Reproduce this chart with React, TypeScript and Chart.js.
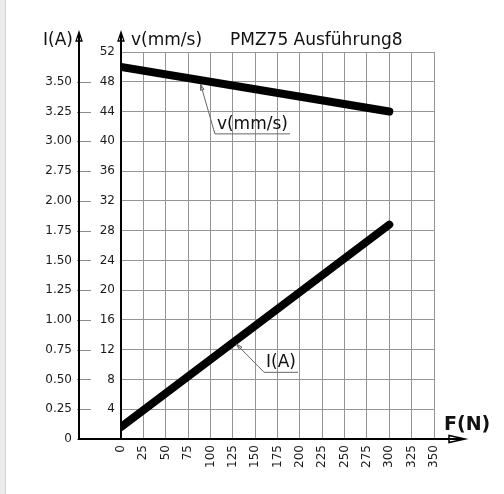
import React, { useEffect, useRef } from "react";
import { Chart, registerables } from "chart.js";

Chart.register(...registerables);

// ---- data ----
const FORCE_N = [0, 300];
const SPEED_MM_S = [50, 44];
const CURRENT_A = [0.1, 1.8];

const X_TICK_LABELS = ["0", "25", "50", "75", "100", "125", "150", "175", "200", "225", "250", "275", "300", "325", "350"];
const V_TICK_LABELS = ["", "4", "8", "12", "16", "20", "24", "28", "32", "36", "40", "44", "48", "52"];
const I_TICK_LABELS = ["0", "0.25", "0.50", "0.75", "1.00", "1.25", "1.50", "1.75", "2.00", "2.75", "3.00", "3.25", "3.50", ""];

const TITLE = "PMZ75 Ausführung8";
const V_AXIS_TITLE = "v(mm/s)";
const I_AXIS_TITLE = "I(A)";
const X_AXIS_TITLE = "F(N)";

const FONT = "'DejaVu Sans', Verdana, sans-serif";

function valueAt(xs: number[], ys: number[], x: number) {
  const t = (x - xs[0]) / (xs[1] - xs[0]);
  return ys[0] + t * (ys[1] - ys[0]);
}

function drawArrowHead(ctx: CanvasRenderingContext2D, fx: number, fy: number, tx: number, ty: number, len: number, half: number) {
  const ang = Math.atan2(ty - fy, tx - fx);
  const bx = tx - len * Math.cos(ang);
  const by = ty - len * Math.sin(ang);
  const px = -Math.sin(ang) * half;
  const py = Math.cos(ang) * half;
  ctx.beginPath();
  ctx.moveTo(tx, ty);
  ctx.lineTo(bx + px, by + py);
  ctx.lineTo(bx - px, by - py);
  ctx.closePath();
  ctx.stroke();
}

const decorPlugin = {
  id: "decor",
  afterDraw(chart: any) {
    const { ctx, chartArea: ca, scales } = chart;
    const xs = scales.x;
    const yv = scales.y;
    const yi = scales.yI;
    const vx = ca.left;
    const ix = yi.right;
    const by = ca.bottom;
    ctx.save();

    // I-axis tick marks
    ctx.strokeStyle = "#8c8c8c";
    ctx.lineWidth = 1;
    yi.ticks.forEach((t: any, i: number) => {
      if (!I_TICK_LABELS[i]) return;
      const y = Math.round(yi.getPixelForValue(t.value)) + 0.5;
      ctx.beginPath();
      ctx.moveTo(ix - 2, y);
      ctx.lineTo(ix + 12, y);
      ctx.stroke();
    });

    // axes
    ctx.strokeStyle = "#000";
    ctx.lineWidth = 2;
    for (const x of [ix, vx]) {
      ctx.beginPath();
      ctx.moveTo(x, by + 1);
      ctx.lineTo(x, ca.top - 18);
      ctx.stroke();
      ctx.lineWidth = 1.3;
      drawArrowHead(ctx, x, by, x, ca.top - 20, 9, 3);
      ctx.lineWidth = 2;
    }
    ctx.beginPath();
    ctx.moveTo(ix, by);
    ctx.lineTo(ca.right + 28, by);
    ctx.stroke();
    ctx.lineWidth = 1.5;
    drawArrowHead(ctx, ix, by, ca.right + 31, by, 16, 3.5);

    // axis titles
    ctx.fillStyle = "#111";
    ctx.textBaseline = "alphabetic";
    ctx.font = `17px ${FONT}`;
    ctx.textAlign = "right";
    ctx.fillText(I_AXIS_TITLE, ix - 6, ca.top - 7);
    ctx.textAlign = "left";
    ctx.fillText(V_AXIS_TITLE, vx + 10, ca.top - 7);
    ctx.fillText(TITLE, 230, ca.top - 7);
    ctx.font = `bold 19px ${FONT}`;
    ctx.fillText(X_AXIS_TITLE, ca.right + 10, by - 9);

    // annotations with leader lines
    const notes = [
      { text: V_AXIS_TITLE, scale: yv, ys: SPEED_MM_S, anchorF: 89, elbowF: 105, elbowY: 41, endF: 189 },
      { text: I_AXIS_TITLE, scale: yi, ys: CURRENT_A, anchorF: 129, elbowF: 160, elbowY: 0.56, endF: 198 },
    ];
    ctx.font = `17px ${FONT}`;
    for (const n of notes) {
      const ax = xs.getPixelForValue(n.anchorF);
      const ay = n.scale.getPixelForValue(valueAt(FORCE_N, n.ys, n.anchorF)) + 4;
      const ex = xs.getPixelForValue(n.elbowF);
      const ey = n.scale.getPixelForValue(n.elbowY);
      const endx = xs.getPixelForValue(n.endF);
      ctx.strokeStyle = "#666";
      ctx.lineWidth = 1;
      ctx.beginPath();
      ctx.moveTo(endx, ey);
      ctx.lineTo(ex, ey);
      ctx.lineTo(ax, ay);
      ctx.stroke();
      drawArrowHead(ctx, ex, ey, ax, ay, 6, 1.8);
      ctx.fillStyle = "#111";
      ctx.textAlign = "left";
      ctx.fillText(n.text, ex + 2, ey - 5);
    }
    ctx.restore();
  },
};

export default function App() {
  const ref = useRef<HTMLCanvasElement | null>(null);

  useEffect(() => {
    if (!ref.current) return;
    const chart = new Chart(ref.current, {
      type: "line",
      data: {
        datasets: [
          {
            label: V_AXIS_TITLE,
            data: FORCE_N.map((f, i) => ({ x: f, y: SPEED_MM_S[i] })),
            yAxisID: "y",
            borderColor: "#000",
            backgroundColor: "#000",
            borderWidth: 8,
            borderCapStyle: "round",
            pointRadius: 0,
            fill: false,
          },
          {
            label: I_AXIS_TITLE,
            data: FORCE_N.map((f, i) => ({ x: f, y: CURRENT_A[i] })),
            yAxisID: "yI",
            borderColor: "#000",
            backgroundColor: "#000",
            borderWidth: 8,
            borderCapStyle: "round",
            pointRadius: 0,
            fill: false,
          },
        ],
      },
      options: {
        animation: false,
        responsive: false,
        events: [],
        layout: { padding: { left: 0, top: 52, right: 70, bottom: 0 } },
        plugins: { legend: { display: false }, tooltip: { enabled: false }, title: { display: false } },
        scales: {
          x: {
            type: "linear",
            min: 0,
            max: 350,
            afterFit: (s: any) => { s.height = 55; },
            afterBuildTicks: (s: any) => { s.ticks = X_TICK_LABELS.map((_, i) => ({ value: i * 25 })); },
            grid: { color: "#949494", lineWidth: 1, drawTicks: false },
            border: { display: false },
            ticks: {
              autoSkip: false,
              maxRotation: 90,
              minRotation: 90,
              padding: 6,
              color: "#1a1a1a",
              font: { family: FONT, size: 12 },
              callback: (_v: any, i: number) => X_TICK_LABELS[i],
            },
          },
          y: {
            type: "linear",
            position: "left",
            weight: 0,
            min: 0,
            max: 52,
            afterFit: (s: any) => { s.width = 42; },
            afterBuildTicks: (s: any) => { s.ticks = V_TICK_LABELS.map((_, i) => ({ value: i * 4 })); },
            grid: { color: "#949494", lineWidth: 1, drawTicks: false },
            border: { display: false },
            ticks: {
              autoSkip: false,
              padding: 6,
              color: "#1a1a1a",
              font: { family: FONT, size: 12 },
              callback: (_v: any, i: number) => V_TICK_LABELS[i],
            },
          },
          yI: {
            type: "linear",
            position: "left",
            weight: 1,
            min: 0,
            max: 3.25,
            afterFit: (s: any) => { s.width = 79; },
            afterBuildTicks: (s: any) => { s.ticks = I_TICK_LABELS.map((_, i) => ({ value: i * 0.25 })); },
            grid: { display: false, drawOnChartArea: false, drawTicks: false },
            border: { display: false },
            ticks: {
              autoSkip: false,
              padding: 7,
              color: "#1a1a1a",
              font: { family: FONT, size: 12 },
              callback: (_v: any, i: number) => I_TICK_LABELS[i],
            },
          },
        },
      },
      plugins: [decorPlugin],
    } as any);
    return () => chart.destroy();
  }, []);

  return (
    <div style={{ position: "absolute", left: 0, top: 0, width: 504, height: 494, background: "#fff", overflow: "hidden" }}>
      <div style={{ position: "absolute", left: 0, top: 0, width: 5, height: 494, background: "#ececec", borderRight: "1px solid #d2d2d2" }} />
      <canvas ref={ref} width={504} height={494} style={{ position: "absolute", left: 0, top: 0, width: 504, height: 494 }} />
    </div>
  );
}
